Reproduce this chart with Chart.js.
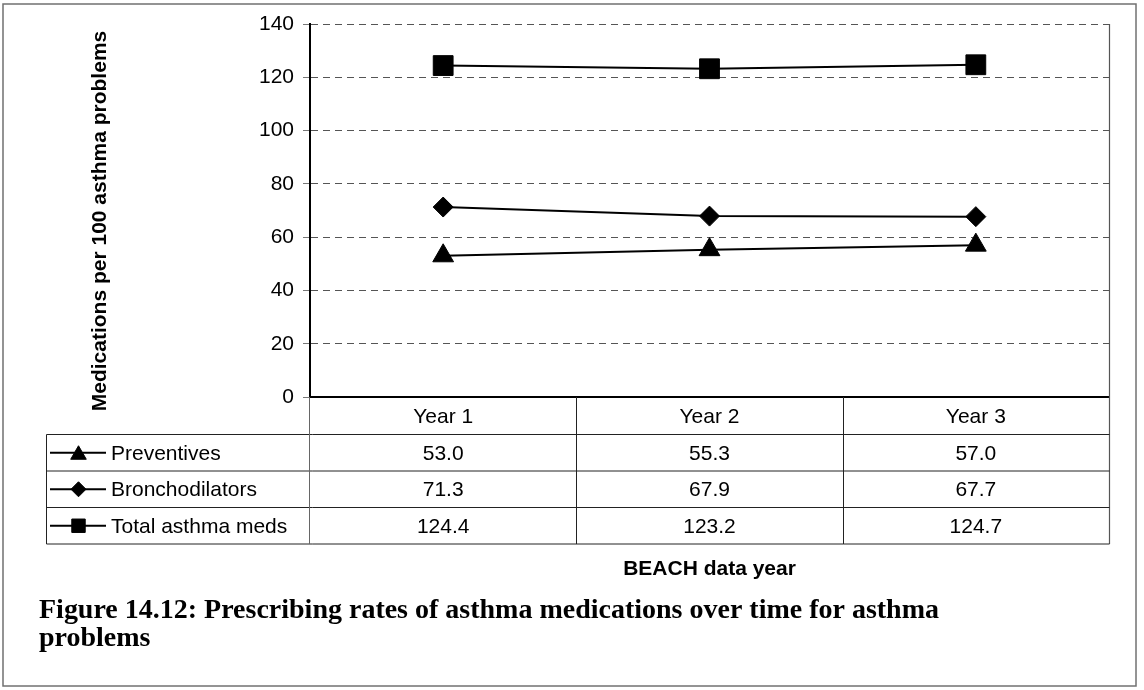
<!DOCTYPE html>
<html><head><meta charset="utf-8">
<script src="https://cdn.jsdelivr.net/npm/chart.js@4.4.0/dist/chart.umd.min.js"></script>
<style>html,body{margin:0;padding:0;background:#fff;overflow:hidden}#wrap{width:1144px;height:690px;position:relative}</style>
</head><body><div id="wrap"><canvas id="c" width="1144" height="690"></canvas></div>
<script>
const categories = ['Year 1', 'Year 2', 'Year 3'];
const preventives = [53.0, 55.3, 57.0];
const bronchodilators = [71.3, 67.9, 67.7];
const totalMeds = [124.4, 123.2, 124.7];
const seriesNames = ['Preventives', 'Bronchodilators', 'Total asthma meds'];
const yTicks = [0, 20, 40, 60, 80, 100, 120, 140];
const yTitle = 'Medications per 100 asthma problems';
const xTitle = 'BEACH data year';
const captionLines = ['Figure 14.12: Prescribing rates of asthma medications over time for asthma', 'problems'];

const SANS = '"Liberation Sans", Arial, sans-serif';
const SERIF = '"Liberation Serif", "Times New Roman", serif';

const seriesValues = [preventives, bronchodilators, totalMeds];
const styles = [
  {pointStyle: 'triangle', radius: 12, legendRadius: 9},
  {pointStyle: 'rectRot', radius: 10, legendRadius: 7.5},
  {pointStyle: 'rect', radius: 14, legendRadius: 9.5}
];

function drawMarker(ctx, style, radius, x, y) {
  ctx.save();
  ctx.fillStyle = '#000';
  ctx.strokeStyle = '#000';
  ctx.lineWidth = 1;
  if (Chart.helpers && Chart.helpers.drawPoint) {
    Chart.helpers.drawPoint(ctx, {pointStyle: style, radius: radius, borderWidth: 1, rotation: 0}, x, y);
  } else {
    ctx.beginPath();
    if (style === 'rect') { const s = radius * Math.SQRT1_2; ctx.rect(x - s, y - s, 2 * s, 2 * s); }
    else if (style === 'rectRot') { ctx.moveTo(x - radius, y); ctx.lineTo(x, y - radius); ctx.lineTo(x + radius, y); ctx.lineTo(x, y + radius); ctx.closePath(); }
    else { ctx.moveTo(x, y - radius); ctx.lineTo(x + radius * 0.866, y + radius / 2); ctx.lineTo(x - radius * 0.866, y + radius / 2); ctx.closePath(); }
    ctx.fill(); ctx.stroke();
  }
  ctx.restore();
}

const decor = {
  id: 'decor',
  afterDraw(chart) {
    const ctx = chart.ctx;
    const area = chart.chartArea;
    const xs = chart.scales.x;
    const L = 46.5, R = Math.round(area.right) + 0.5;
    const top = Math.round(area.bottom);
    const headerBottom = 434.5;
    const rowH = 36.5;
    const rows = [headerBottom, headerBottom + rowH, headerBottom + 2 * rowH, headerBottom + 3 * rowH];
    ctx.save();
    // outer frame
    ctx.strokeStyle = '#707070';
    ctx.lineWidth = 1.5;
    ctx.strokeRect(3, 4, 1133, 682);
    // right border of plot + table
    ctx.strokeStyle = '#555';
    ctx.lineWidth = 1.2;
    ctx.beginPath(); ctx.moveTo(R, area.top); ctx.lineTo(R, rows[3]); ctx.stroke();
    // table lines
    ctx.strokeStyle = '#222';
    ctx.lineWidth = 1;
    ctx.beginPath();
    rows.forEach(y => { ctx.moveTo(L, y); ctx.lineTo(R, y); });
    ctx.moveTo(L, headerBottom); ctx.lineTo(L, rows[3]);
    for (let i = 1; i < categories.length; i++) {
      const xb = Math.round((xs.getPixelForValue(i - 1) + xs.getPixelForValue(i)) / 2) + 0.5;
      ctx.moveTo(xb, top); ctx.lineTo(xb, rows[3]);
    }
    ctx.stroke();
    ctx.strokeStyle = '#666';
    ctx.beginPath(); ctx.moveTo(Math.round(area.left) - 0.5, top); ctx.lineTo(Math.round(area.left) - 0.5, rows[3]); ctx.stroke();

    // header labels
    ctx.fillStyle = '#000';
    ctx.font = '21px ' + SANS;
    ctx.textAlign = 'center';
    ctx.textBaseline = 'middle';
    categories.forEach((c, i) => ctx.fillText(c, xs.getPixelForValue(i), (top + headerBottom) / 2 + 1));
    // rows
    seriesNames.forEach((name, r) => {
      const yc = rows[r] + rowH / 2 + 1;
      ctx.strokeStyle = '#000';
      ctx.lineWidth = 2;
      ctx.beginPath(); ctx.moveTo(50, yc - 1); ctx.lineTo(106, yc - 1); ctx.stroke();
      drawMarker(ctx, styles[r].pointStyle, styles[r].legendRadius, 78.5, yc - 1 + (styles[r].pointStyle === 'triangle' ? 2 : 0));
      ctx.fillStyle = '#000';
      ctx.textAlign = 'left';
      ctx.fillText(name, 111, yc);
      ctx.textAlign = 'center';
      seriesValues[r].forEach((v, i) => ctx.fillText(v.toFixed(1), xs.getPixelForValue(i), yc));
    });

    // axis titles
    ctx.font = 'bold 21px ' + SANS;
    ctx.textAlign = 'center';
    ctx.textBaseline = 'alphabetic';
    ctx.fillText(xTitle, (area.left + area.right) / 2, 575);
    ctx.save();
    ctx.translate(106, 221);
    ctx.rotate(-Math.PI / 2);
    ctx.textBaseline = 'alphabetic';
    ctx.fillText(yTitle, 0, 0);
    ctx.restore();

    // caption
    ctx.font = 'bold 27px ' + SERIF;
    ctx.textAlign = 'left';
    const w = ctx.measureText(captionLines[0]).width;
    const sx = 900 / w;
    ctx.save();
    ctx.translate(39, 0);
    ctx.scale(sx, 1);
    ctx.fillText(captionLines[0], 0, 618);
    ctx.fillText(captionLines[1], 0, 646);
    ctx.restore();
    ctx.restore();
  }
};

new Chart(document.getElementById('c'), {
  type: 'line',
  data: {
    labels: categories,
    datasets: seriesValues.map((vals, i) => ({
      label: seriesNames[i],
      data: vals,
      borderColor: '#000',
      backgroundColor: '#000',
      borderWidth: 2,
      pointStyle: styles[i].pointStyle,
      pointRadius: styles[i].radius,
      pointHoverRadius: styles[i].radius,
      pointBackgroundColor: '#000',
      pointBorderColor: '#000',
      pointBorderWidth: 1,
      tension: 0,
      clip: false
    }))
  },
  options: {
    responsive: false,
    animation: false,
    devicePixelRatio: 1,
    layout: {padding: {left: 0, top: 24, right: 35, bottom: 293}},
    plugins: {legend: {display: false}, tooltip: {enabled: false}, title: {display: false}},
    scales: {
      x: {
        type: 'category',
        offset: true,
        grid: {display: false, drawTicks: false},
        border: {display: true, color: '#000', width: 2},
        ticks: {display: false},
        afterFit: s => { s.height = 0; }
      },
      y: {
        min: 0, max: 140,
        afterBuildTicks: s => { s.ticks = yTicks.map(v => ({value: v})); },
        ticks: {color: '#000', font: {family: SANS, size: 21}, padding: 9, callback: v => String(v)},
        grid: {color: '#555', lineWidth: 1, tickColor: '#777', tickLength: 7, tickWidth: 1},
        border: {display: true, color: '#000', width: 2, dash: [7, 5]},
        afterFit: s => { s.width = 310; }
      }
    }
  },
  plugins: [decor]
});
</script>
</body></html>
